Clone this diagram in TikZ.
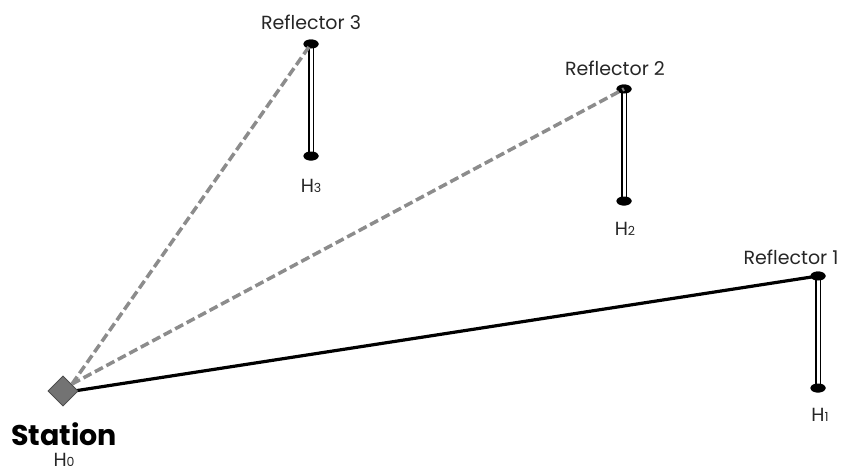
\documentclass[tikz,border=0pt]{standalone}
\usepackage{fontspec}
\setmainfont{Poppins}
\usetikzlibrary{shapes.geometric}
\newcommand{\hsub}[1]{{\fontsize{12.5}{13}\selectfont #1}}
\begin{document}
\begin{tikzpicture}[x=1pt,y=-1pt,
  dot/.style={ellipse,fill=black,minimum width=15pt,minimum height=9pt,inner sep=0pt},
  pole/.style={double=white,double distance=3pt,line width=1.5pt,draw=black},
  dashray/.style={draw=black!45,line width=3.5pt,dash pattern=on 9pt off 4pt},
  ray/.style={draw=black,line width=3.2pt},
  stationbox/.style={draw=black!70,fill=black!55,line width=0.8pt,minimum size=21pt,rotate=45,inner sep=0pt},
  lbl/.style={font=\fontsize{19}{22}\selectfont,text=black!85,inner sep=0pt}]
\useasboundingbox (0,0) rectangle (866,474);
% station
\node[stationbox] (st) at (63,391) {};
\coordinate (sc) at (72,384);
% reflectors
\node[dot] (r3t) at (311,44) {};
\node[dot] (r3b) at (311,156) {};
\node[dot] (r2t) at (624,89) {};
\node[dot] (r2b) at (624,201) {};
\node[dot] (r1t) at (818,276) {};
\node[dot] (r1b) at (818,388) {};
\draw[pole] (r3t.center) -- (r3b.center);
\draw[pole] (r2t.center) -- (r2b.center);
\draw[pole] (r1t.center) -- (r1b.center);
\node[dot] at (r3t) {};
\node[dot] at (r3b) {};
\node[dot] at (r2t) {};
\node[dot] at (r2b) {};
\node[dot] at (r1t) {};
\node[dot] at (r1b) {};
% rays
\draw[dashray] (sc) -- (r3t.center);
\draw[dashray] (sc) -- (r2t.center);
\coordinate (se) at (74,391);
\draw[ray] (se) -- (r1t.center);
\node[stationbox] at (63,391) {};
% labels
\node[lbl] (l3) at (311,22) {Reflector 3};
\node[lbl] (l2) at (615,68) {Reflector 2};
\node[lbl] (l1) at (791,257) {Reflector 1};
\node[lbl] (h3) at (311,186) {H\hsub{3}};
\node[lbl] (h2) at (625,229) {H\hsub{2}};
\node[lbl] (h1) at (820,415) {H\hsub{1}};
\node[font=\fontsize{28.5}{30}\selectfont\bfseries,inner sep=0pt,text depth=0pt,text height=20pt] (stl) at (64,435) {Station};
\node[lbl,text depth=0pt,text height=13.5pt] (h0) at (64,460) {H\hsub{0}};
\end{tikzpicture}
\end{document}
